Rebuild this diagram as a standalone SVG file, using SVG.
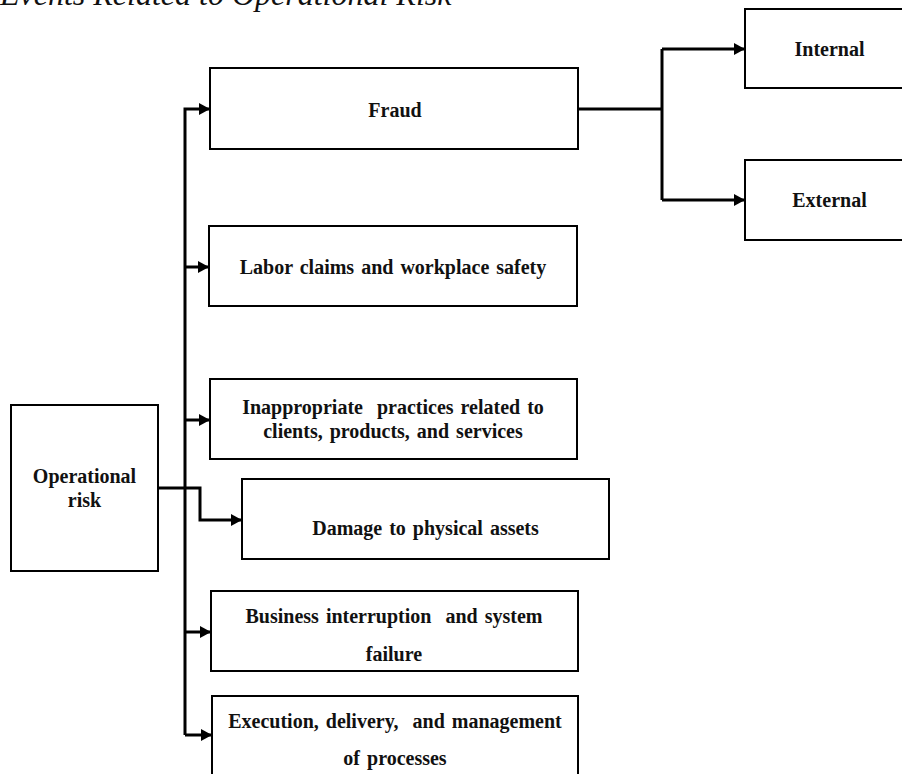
<svg xmlns="http://www.w3.org/2000/svg" width="902" height="774" viewBox="0 0 902 774">
<style>
.box{fill:#fff;stroke:#000;stroke-width:2}
.t{font-family:"Liberation Serif","Times New Roman",serif;font-weight:bold;font-size:20px;word-spacing:2px;fill:#111;text-anchor:middle;white-space:pre}
.title{font-family:"Liberation Serif","Times New Roman",serif;font-style:italic;font-size:32px;fill:#111}
.c{fill:none;stroke:#000;stroke-width:3}
</style>
<defs>
<marker id="ah" markerUnits="userSpaceOnUse" markerWidth="12" markerHeight="13" refX="11" refY="6.5" orient="auto">
<path d="M0,0.5 L11,6.5 L0,12.5 Z" fill="#000"/>
</marker>
</defs>
<rect width="902" height="774" fill="#fff"/>
<text class="title" x="0" y="5">Events Related to Operational Risk</text>

<g id="connectors">
<path class="c" d="M185,735 V109 H210" marker-end="url(#ah)"/>
<path class="c" d="M185,267 H209" marker-end="url(#ah)"/>
<path class="c" d="M185,420 H210" marker-end="url(#ah)"/>
<path class="c" d="M185,632 H211" marker-end="url(#ah)"/>
<path class="c" d="M185,735 H212" marker-end="url(#ah)"/>
<path class="c" d="M158,488 H200 V520 H242" marker-end="url(#ah)"/>
<path class="c" d="M578,109 H662"/>
<path class="c" d="M662,49 V200"/>
<path class="c" d="M662,49 H745" marker-end="url(#ah)"/>
<path class="c" d="M662,200 H745" marker-end="url(#ah)"/>
</g>

<g id="operational-risk">
<rect class="box" x="11" y="405" width="147" height="166"/>
<text class="t" x="84.5" y="483">Operational</text>
<text class="t" x="84.5" y="507">risk</text>
</g>
<g id="fraud">
<rect class="box" x="210" y="68" width="368" height="81"/>
<text class="t" x="395" y="117">Fraud</text>
</g>
<g id="internal">
<rect class="box" x="745" y="9" width="165" height="79"/>
<text class="t" x="829.5" y="56">Internal</text>
</g>
<g id="external">
<rect class="box" x="745" y="160" width="165" height="80"/>
<text class="t" x="829.5" y="207">External</text>
</g>
<g id="labor">
<rect class="box" x="209" y="226" width="368" height="80"/>
<text class="t" x="393" y="274">Labor claims and workplace safety</text>
</g>
<g id="inappropriate">
<rect class="box" x="210" y="379" width="367" height="80"/>
<text class="t" x="393" y="414" xml:space="preserve">Inappropriate  practices related to</text>
<text class="t" x="393" y="438">clients, products, and services</text>
</g>
<g id="damage">
<rect class="box" x="242" y="479" width="367" height="80"/>
<text class="t" x="425.5" y="535">Damage to physical assets</text>
</g>
<g id="business">
<rect class="box" x="211" y="591" width="367" height="80"/>
<text class="t" x="394" y="623" xml:space="preserve">Business interruption  and system</text>
<text class="t" x="394" y="661">failure</text>
</g>
<g id="execution">
<rect class="box" x="212" y="696" width="366" height="90"/>
<text class="t" x="395" y="728" xml:space="preserve">Execution, delivery,  and management</text>
<text class="t" x="395" y="765">of processes</text>
</g>
</svg>
